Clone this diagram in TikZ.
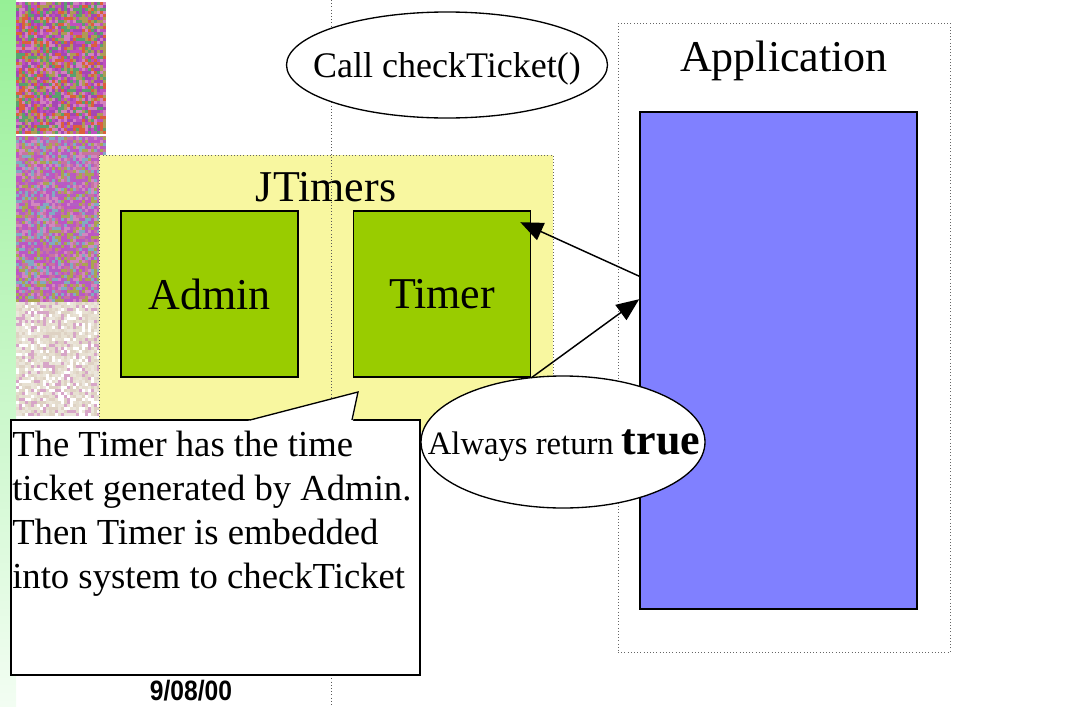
\documentclass[tikz,border=0pt]{standalone}
\usepackage{fontspec}
\setmainfont{Liberation Serif}
\newfontfamily\datefont{Liberation Sans}
\usetikzlibrary{arrows.meta,shapes.geometric,positioning}

\definecolor{stripgreen}{RGB}{150,240,150}
\definecolor{jtyellow}{RGB}{248,247,160}
\definecolor{boxgreen}{RGB}{153,204,0}
\definecolor{appblue}{RGB}{128,128,255}
% colours of the painted strip, three bands from top to bottom
\definecolor{paint11}{RGB}{190,80,190}
\definecolor{paint12}{RGB}{165,70,180}
\definecolor{paint13}{RGB}{175,155,85}
\definecolor{paint14}{RGB}{210,130,190}
\definecolor{paint15}{RGB}{220,95,60}
\definecolor{paint16}{RGB}{90,160,110}
\definecolor{paint21}{RGB}{190,85,195}
\definecolor{paint22}{RGB}{210,135,190}
\definecolor{paint23}{RGB}{170,165,80}
\definecolor{paint24}{RGB}{200,115,160}
\definecolor{paint25}{RGB}{180,95,195}
\definecolor{paint26}{RGB}{130,170,195}
\definecolor{paint31}{RGB}{228,220,205}
\definecolor{paint32}{RGB}{232,225,210}
\definecolor{paint33}{RGB}{222,210,195}
\definecolor{paint34}{RGB}{215,165,200}
\definecolor{paint35}{RGB}{235,230,220}
\definecolor{paint36}{RGB}{255,255,255}

\begin{document}
\begin{tikzpicture}
[x=0.75pt, y=-0.75pt, font=\fontsize{33}{40}\selectfont, >={Triangle[length=17pt, width=14pt]}]
\tikzstyle{part}=[rectangle, draw, line width=1.2pt, fill=boxgreen, minimum width=177*0.75pt, minimum height=166*0.75pt]
\tikzstyle{bubble}=[ellipse, draw, line width=1pt, fill=white, inner sep=0pt]
\tikzstyle{frame}=[rectangle, draw=gray!80!black, dotted, inner sep=0pt]
\tikzstyle{call}=[->, line width=1.1pt]

\useasboundingbox (0,0) rectangle (1083,707);

% side strip and painting
\shade[top color=stripgreen, bottom color=stripgreen!12] (0,0) rectangle (16,707);
\pgfmathsetseed{12}
\foreach \r in {0,...,137}{
  \foreach \c in {0,...,29}{
    \pgfmathrandominteger{\k}{1}{6}
    \pgfmathtruncatemacro{\band}{\r<44 ? 1 : (\r<100 ? 2 : 3)}
    \fill[fill=paint\band\k] (16+3*\c, 2+3*\r) rectangle ++(3,3);
  }
}
\fill[white] (16,134) rectangle (106,136);

% JTimers package
\node[frame, fill=jtyellow, minimum width=454*0.75pt, minimum height=277*0.75pt] (jtimers) at (326,293.5) {};
\node (jtlabel) at (326,187) {JTimers};
\draw[dotted, gray!70!black] (331,0) -- (331,707);
\node[part] (admin) at (209.5,294) {Admin};
\node[part] (timer) at (442,294) {Timer};

% application
\node[frame, minimum width=332*0.75pt, minimum height=629*0.75pt] (appframe) at (784,337.5) {};
\node (applabel) at (784,61) {Application};
\node[rectangle, draw, line width=1.2pt, fill=appblue, minimum width=277*0.75pt, minimum height=497*0.75pt] (app) at (778.5,360.5) {};

\node[bubble, minimum width=321*0.75pt, minimum height=106*0.75pt] (call) at (447,65) {};
\node[font=\fontsize{27}{30}\selectfont] (calltext) at (447,69) {Call checkTicket()};

% note with its pointer
\node[rectangle, draw, line width=1pt, fill=white, minimum width=409*0.75pt, minimum height=255*0.75pt] (noteframe) at (215.5,547.5) {};
\coordinate (tip) at (358,392);
\fill[white] (248,421) -- (tip) -- (353,421) -- cycle;
\draw[line width=1pt] (250,420) -- (tip) -- (352,420);
\node[anchor=north west, inner sep=0pt, align=left, font=\fontsize{27.5}{33}\selectfont] (note) at (12,431)
  {The Timer has the time\\ticket generated by Admin.\\Then Timer is embedded\\into system to checkTicket};

\node[bubble, minimum width=284*0.75pt, minimum height=132*0.75pt] (always) at (563,442) {};
\node[font=\fontsize{24.5}{30}\selectfont] (alwaystext) at (564,446)
  {Always return \textbf{\fontsize{33}{36}\selectfont true}};

\draw[call] ([shift={(0,165)}]app.north west) -- ([shift={(-11,12)}]timer.north east);
\draw[call] (timer.south east) -- ([shift={(0,188)}]app.north west);

\node[anchor=base, inner sep=0pt, font=\datefont\bfseries\fontsize{21}{24}\selectfont] (date) at (191,700) {\scalebox{0.88}[1]{9/08/00}};
\end{tikzpicture}
\end{document}
